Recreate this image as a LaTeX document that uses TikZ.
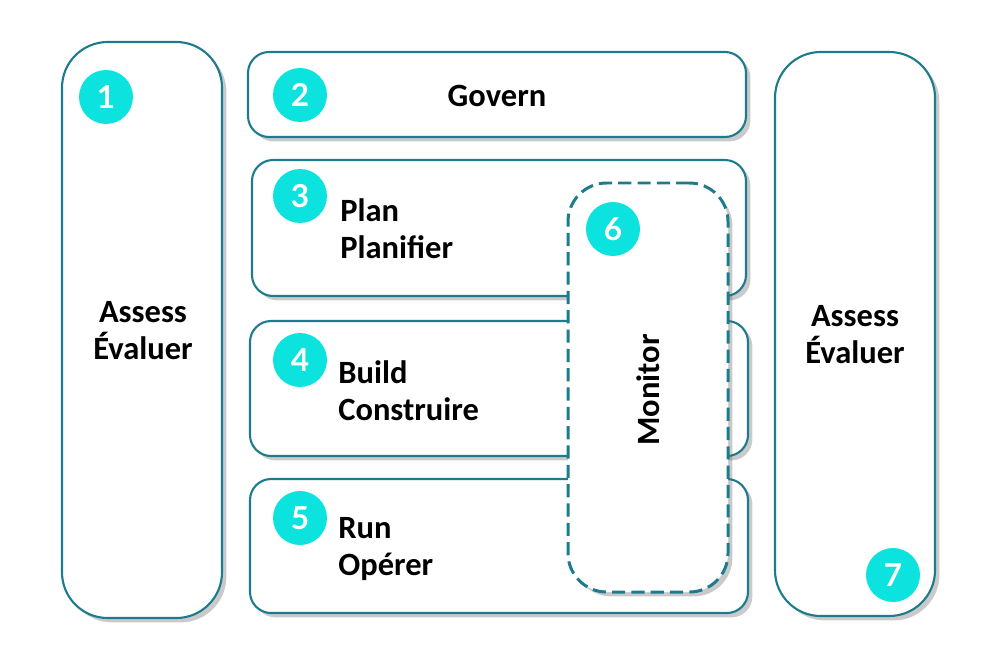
\documentclass[tikz,border=0pt]{standalone}
\usepackage{fontspec}
\setmainfont{Carlito}
\newfontfamily\badgefont{Lato}
\usetikzlibrary{positioning,shadows}
\definecolor{tealline}{HTML}{1D7B8E}
\definecolor{badgecyan}{HTML}{0CE3DE}
\tikzset{%
  % Specifications for style of nodes:
        base/.style = {rectangle, draw=tealline, line width=1.2pt, fill=white,
                       inner sep=0pt, outer sep=0pt,
                       drop shadow={shadow xshift=2.5pt, shadow yshift=-2.5pt,
                                    opacity=0.35, fill=black!60}},
       panel/.style = {base, rounded corners=12pt},
      column/.style = {base, rounded corners=26pt},
     monitor/.style = {base, rounded corners=22pt, dashed, line width=1.7pt,
                       dash pattern=on 7.5pt off 3.5pt},
       badge/.style = {circle, fill=badgecyan, minimum size=0.54cm*2, inner sep=0pt,
                       text=white, font=\badgefont\bfseries\fontsize{18}{18}\selectfont},
       label/.style = {font=\bfseries\fontsize{18.5}{21}\selectfont, align=left,
                       inner sep=0pt},
}
\begin{document}
\begin{tikzpicture}[x=0.02cm, y=-0.02cm]
\useasboundingbox (0,0) rectangle (1000,656);
% Specification of boxes (position, etc.)
\node (assessl) [column, minimum width=160*0.02cm, minimum height=576*0.02cm] at (142,330) {};
\node (govern)  [panel, minimum width=498*0.02cm, minimum height=85*0.02cm]  at (497,94.5) {};
\node (plan)    [panel, minimum width=494*0.02cm, minimum height=136*0.02cm] at (499,228) {};
\node (build)   [panel, minimum width=498*0.02cm, minimum height=135*0.02cm] at (499,388.5) {};
\node (run)     [panel, minimum width=498*0.02cm, minimum height=134*0.02cm] at (499,546) {};
\node (monitor) [monitor, minimum width=160*0.02cm, minimum height=409*0.02cm] at (648,387.5) {};
\node (assessr) [column, minimum width=160*0.02cm, minimum height=564*0.02cm] at (855,334) {};
% Numbered badges
\node (n1) [badge] at (106,97)  {1};
\node (n2) [badge] at (300,95)  {2};
\node (n3) [badge] at (300,196) {3};
\node (n4) [badge] at (300,360) {4};
\node (n5) [badge] at (300,518) {5};
\node (n6) [badge] at (613,229) {6};
\node (n7) [badge] at (893,575) {7};
% Texts of the boxes
\node (tgovern) [label] at (497,96) {Govern};
\node (tplan)   [label, anchor=west] at (340,229) {Plan\\Planifier};
\node (tbuild)  [label, anchor=west] at (338,391) {Build\\Construire};
\node (trun)    [label, anchor=west] at (338,549) {Run\\Opérer};
\node (tassl)   [label, align=center] at (143,331) {Assess\\Évaluer};
\node (tassr)   [label, align=center] at (855,335) {Assess\\Évaluer};
\node (tmonitor) [label, rotate=90] at (648,390) {Monitor};
\end{tikzpicture}
\end{document}
